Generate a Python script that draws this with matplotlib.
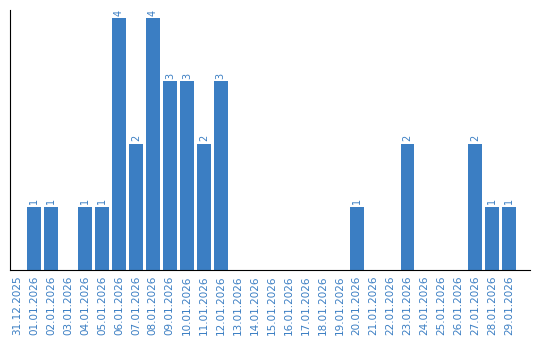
import matplotlib
matplotlib.use('Agg')
import matplotlib.pyplot as plt

# data
dates = ['31.12.2025', '01.01.2026', '02.01.2026', '03.01.2026', '04.01.2026',
         '05.01.2026', '06.01.2026', '07.01.2026', '08.01.2026', '09.01.2026',
         '10.01.2026', '11.01.2026', '12.01.2026', '13.01.2026', '14.01.2026',
         '15.01.2026', '16.01.2026', '17.01.2026', '18.01.2026', '19.01.2026',
         '20.01.2026', '21.01.2026', '22.01.2026', '23.01.2026', '24.01.2026',
         '25.01.2026', '26.01.2026', '27.01.2026', '28.01.2026', '29.01.2026']
counts = [0, 1, 1, 0, 1, 1, 4, 2, 4, 3, 3, 2, 3, 0, 0,
          0, 0, 0, 0, 0, 1, 0, 0, 2, 0, 0, 0, 2, 1, 1]

blue = '#3b7ec3'

fig = plt.figure(figsize=(5.4, 3.4), dpi=100)
ax = fig.add_axes([0.019, 0.206, 0.962, 0.765])

x = list(range(len(dates)))
ax.bar(x, counts, width=0.82, color=blue)

for xi, c in zip(x, counts):
    if c > 0:
        ax.text(xi, c + 0.04, str(c), rotation=90, ha='center', va='bottom',
                color=blue, fontsize=7)

ax.set_xlim(-0.4, 30.2)
ax.set_ylim(0, 4.13)
ax.set_xticks(x)
ax.set_xticklabels(dates, rotation=90, color=blue, fontsize=7.5)
ax.tick_params(axis='x', length=0, pad=4)
ax.set_yticks([])
ax.spines['top'].set_visible(False)
ax.spines['right'].set_visible(False)

fig.savefig('out.png', dpi=100)
